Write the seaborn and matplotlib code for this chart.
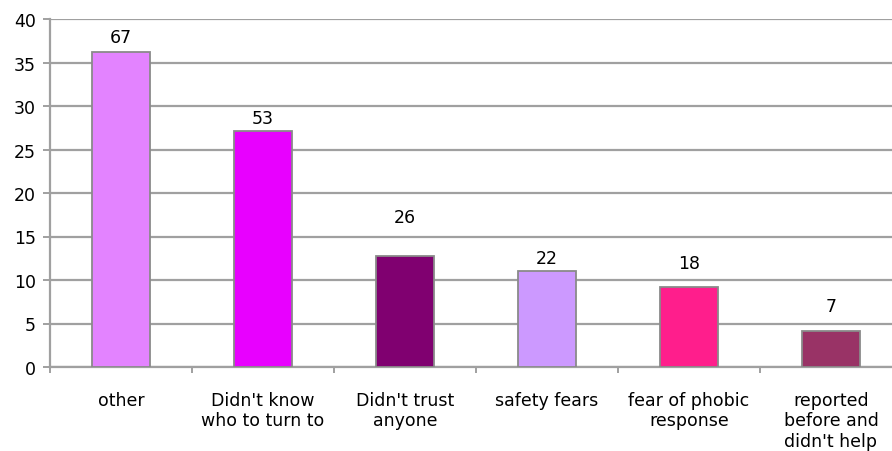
import matplotlib
matplotlib.use("Agg")
import matplotlib.pyplot as plt
import seaborn as sns
import pandas as pd
import numpy as np

categories = ["other", "Didn't know\nwho to turn to", "Didn't trust\nanyone",
              "safety fears", "fear of phobic\nresponse", "reported\nbefore and\ndidn't help"]
percent = [36.2, 27.1, 12.8, 11.0, 9.2, 4.1]
counts = [67, 53, 26, 22, 18, 7]
colors = ["#E383FF", "#E800FF", "#800070", "#CC99FF", "#FF1E8C", "#993366"]
label_offsets_px = [6, 4, 30, 4, 15, 16]

sns.set_theme(style="white")
plt.rcParams['font.family'] = ['DejaVu Sans']

df = pd.DataFrame({"cat": categories, "val": percent})

fig = plt.figure(figsize=(8.92, 4.52), dpi=100)
ax = fig.add_axes([50/892, 84/452, 852/892, 348/452])

sns.barplot(data=df, x="cat", y="val", hue="cat", palette=colors, legend=False,
            saturation=1, width=0.41, edgecolor="#8a8a8a", linewidth=1.3, ax=ax, zorder=3)

ax.set_ylim(0, 40)
ax.set_xlim(-0.5, 5.5)
ax.set_yticks(range(0, 41, 5))
ax.yaxis.grid(True, color="#a0a0a0", linewidth=1.6, zorder=0)
ax.set_axisbelow(True)
ax.set_xlabel("")
ax.set_ylabel("")

for s in ["top", "right"]:
    ax.spines[s].set_visible(False)
for s in ["left", "bottom"]:
    ax.spines[s].set_color("#a0a0a0")
    ax.spines[s].set_linewidth(1.6)

fs = 12.5
ax.tick_params(axis="y", which="major", length=5, width=1.4, color="#a0a0a0",
               labelsize=fs, labelcolor="black", pad=5, left=True)
ax.tick_params(axis="x", which="major", length=0, labelsize=fs, labelcolor="black", pad=17)
ax.set_xticks(np.arange(-0.5, 6.0, 1.0), minor=True)
ax.tick_params(axis="x", which="minor", length=4, width=1.4, color="#a0a0a0", bottom=True)
for lbl in ax.get_xticklabels():
    lbl.set_linespacing(1.2)
    lbl.set_verticalalignment("top")

for i, (v, c, off) in enumerate(zip(percent, counts, label_offsets_px)):
    ax.annotate(str(c), xy=(i, v), xytext=(0, off * 0.72), textcoords="offset points",
                ha="center", va="bottom", fontsize=fs, color="black")

fig.savefig("out.png", dpi=100)
